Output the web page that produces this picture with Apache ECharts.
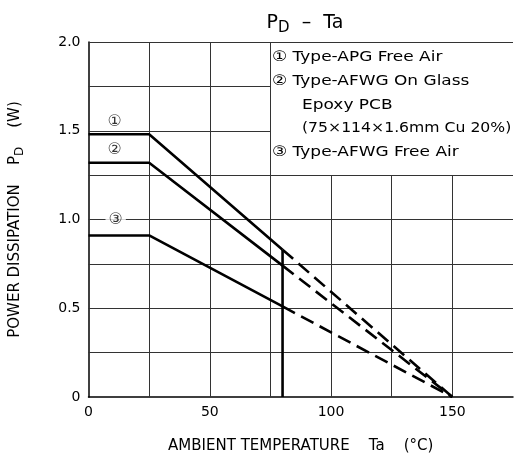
<!DOCTYPE html>
<html><head><meta charset="utf-8">
<script src="https://cdn.jsdelivr.net/npm/echarts@6/dist/echarts.min.js"></script>
<style>html,body{margin:0;padding:0;background:#fff}#c{width:516px;height:459px}</style>
</head><body><div id="c"></div>
<script>
// ---- data ----
const curve1Solid = [[0,1.48],[25,1.48],[80,0.83]];
const curve1Dash  = [[80,0.83],[150,0]];
const curve2Solid = [[0,1.32],[25,1.32],[80,0.74]];
const curve2Dash  = [[80,0.74],[150,0]];
const curve3Solid = [[0,0.91],[25,0.91],[80,0.51]];
const curve3Dash  = [[80,0.51],[150,0]];
const cutoffLine  = [[80,0],[80,0.83]];
const curveTags   = [[10.8,1.55,'①'],[10.8,1.39,'②'],[11.2,1.0,'③']];
const vFull = [25,50,75];          // full-height vertical grid
const vPart = [100,125,150];       // vertical grid up to 1.25
const hFull = [0.25,0.5,0.75,1.0,1.25,2.0];
const hPart = [1.5,1.75];          // horizontal grid up to 75
const legendLines = ['① Type-APG Free Air','② Type-AFWG On Glass','Epoxy PCB','(75×114×1.6mm Cu 20%)','③ Type-AFWG Free Air'];
const legendIndent = [0,0,1,1,0];

const FONT = "'DejaVu Sans',sans-serif";
const gridSegs = [];
vFull.forEach(x=>gridSegs.push({coords:[[x,0],[x,2]]}));
vPart.forEach(x=>gridSegs.push({coords:[[x,0],[x,1.25]]}));
hFull.forEach(y=>gridSegs.push({coords:[[0,y],[175,y]]}));
hPart.forEach(y=>gridSegs.push({coords:[[0,y],[75,y]]}));

const curveStyle = {color:'#000',width:2.6};
function solid(d){return {type:'line',data:d,symbol:'none',lineStyle:curveStyle,z:5,animation:false};}
function dash(d){return {type:'line',data:d,symbol:'none',lineStyle:Object.assign({},curveStyle,{type:[14,7]}),z:5,animation:false};}

const chart = echarts.init(document.getElementById('c'));
chart.setOption({
  backgroundColor:'#fff',
  animation:false,
  title:{
    text:'{a|P}{b|D}{a|  –  Ta}',
    left:300, top:5, textAlign:'center',
    textStyle:{fontWeight:'normal',rich:{a:{fontSize:19,fontFamily:FONT,color:'#000',fontWeight:'normal'},b:{fontSize:15,fontFamily:FONT,color:'#000',fontWeight:'normal',padding:[11,0,0,0]}}}
  },
  grid:{left:85,right:-1,top:42,bottom:61},
  xAxis:{
    type:'value',min:0,max:175,interval:25,
    name:'AMBIENT TEMPERATURE    Ta    (°C)',nameLocation:'middle',nameGap:42,
    nameTextStyle:{fontSize:15,fontFamily:FONT,color:'#000'},
    axisLine:{lineStyle:{color:'#000',width:1.5}},
    axisTick:{show:false},
    splitLine:{show:false},
    axisLabel:{fontSize:14,fontFamily:FONT,color:'#000',margin:8,formatter:v=>v%50===0?String(v):''}
  },
  yAxis:{
    type:'value',min:0,max:2,interval:0.25,
    name:'POWER DISSIPATION    {s|P}{sub|D}    (W)',nameLocation:'middle',nameGap:63,
    nameTextStyle:{fontSize:15,fontFamily:FONT,color:'#000',rich:{s:{fontSize:15,fontFamily:FONT,color:'#000'},sub:{fontSize:12,fontFamily:FONT,color:'#000',padding:[8,0,0,0]}}},
    axisLine:{show:true,lineStyle:{color:'#000',width:1.5}},
    axisTick:{show:false},
    splitLine:{show:false},
    axisLabel:{fontSize:14,fontFamily:FONT,color:'#000',margin:8,formatter:v=>v===0?'0':(Math.round(v*100)%50===0?v.toFixed(1):'')}
  },
  graphic: legendLines.map((t,i)=>({
    type:'text',x:legendIndent[i]?302:272,y:50+i*23.7,scaleX:(i===3?1.08:1.17),
    style:{text:t,fontSize:14.5,fontFamily:FONT,fill:'#000'}
  })),
  series:[
    {type:'lines',coordinateSystem:'cartesian2d',data:gridSegs,lineStyle:{color:'#333',width:1,opacity:1},z:1,animation:false,silent:true},
    solid(curve1Solid),dash(curve1Dash),
    solid(curve2Solid),dash(curve2Dash),
    solid(curve3Solid),dash(curve3Dash),
    {type:'line',data:cutoffLine,symbol:'none',lineStyle:curveStyle,z:5,animation:false},
    {type:'scatter',data:curveTags,symbolSize:0,z:10,animation:false,
     label:{show:true,position:'inside',formatter:p=>p.data[2],fontSize:16,fontFamily:FONT,color:'#000',backgroundColor:'#fff',padding:[1,3,1,3]}}
  ]
});
</script></body></html>
